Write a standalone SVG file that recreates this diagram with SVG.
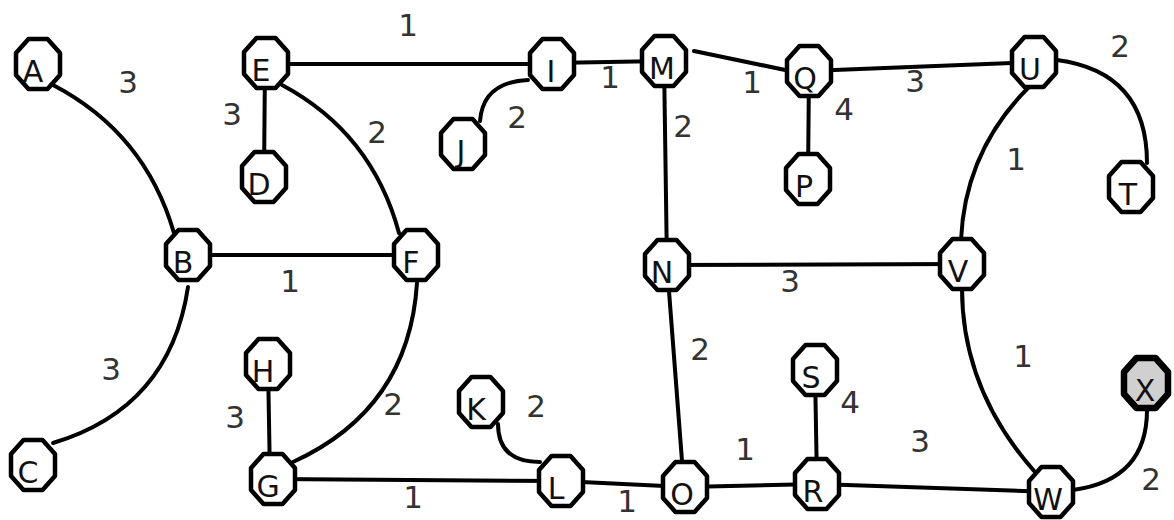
<svg xmlns="http://www.w3.org/2000/svg" xmlns:xlink="http://www.w3.org/1999/xlink" width="1174" height="520" viewBox="0 0 1174 520">
<style>
.e{fill:none;stroke:#000;stroke-width:4;stroke-linecap:round}
.n{fill:#fff;stroke:#000;stroke-width:4.5;stroke-linejoin:round}
.nx{fill:#d0d0d0;stroke:#000;stroke-width:6.5;stroke-linejoin:round}
.t{font-family:"DejaVu Sans",sans-serif;font-size:30px;fill:#111;text-anchor:middle}
.w{font-family:"DejaVu Sans",sans-serif;font-size:31px;fill:#333;text-anchor:middle}
</style>
<defs>
<polygon id="oct" points="-9.5,-25 9.5,-25 22,-11 22,11 9.5,25 -9.5,25 -22,11 -22,-11"/>
</defs>
<rect width="1174" height="520" fill="#fff"/>
<g id="connectors">
<path class="e" d="M53,85 Q145,133 174,233"/>
<path class="e" d="M188,287 Q170,408 53,443"/>
<line class="e" x1="188" y1="255" x2="416" y2="255"/>
<line class="e" x1="265" y1="63" x2="264" y2="177"/>
<path class="e" d="M282,85 Q372,133 399,233"/>
<line class="e" x1="266" y1="64" x2="552" y2="64"/>
<path class="e" d="M528,80 Q483,82 480,121"/>
<line class="e" x1="552" y1="63" x2="664" y2="61"/>
<line class="e" x1="694" y1="51" x2="790" y2="71"/>
<line class="e" x1="664" y1="61" x2="667" y2="265"/>
<line class="e" x1="809" y1="71" x2="808" y2="179"/>
<line class="e" x1="809" y1="71" x2="1034" y2="62"/>
<path class="e" d="M1057,60 Q1147,72 1147,163"/>
<path class="e" d="M1030,86 Q965,150 961,240"/>
<line class="e" x1="667" y1="265" x2="962" y2="264"/>
<line class="e" x1="667" y1="265" x2="684" y2="487"/>
<path class="e" d="M962,288 Q962,390 1035,472"/>
<path class="e" d="M417,283 Q409,409 293,462"/>
<line class="e" x1="268" y1="364" x2="270" y2="479"/>
<line class="e" x1="273" y1="479" x2="561" y2="481"/>
<path class="e" d="M498,424 Q498,462 540,462"/>
<line class="e" x1="561" y1="481" x2="685" y2="487"/>
<line class="e" x1="685" y1="487" x2="817" y2="484"/>
<line class="e" x1="815" y1="370" x2="817" y2="484"/>
<line class="e" x1="817" y1="484" x2="1051" y2="492"/>
<path class="e" d="M1147,410 Q1147,480 1073,490"/>
</g>
<g id="edge-labels">
<text class="w" x="128" y="93">3</text>
<text class="w" x="111" y="380">3</text>
<text class="w" x="290" y="292">1</text>
<text class="w" x="232" y="125">3</text>
<text class="w" x="377" y="143">2</text>
<text class="w" x="408" y="36">1</text>
<text class="w" x="517" y="128">2</text>
<text class="w" x="610" y="88">1</text>
<text class="w" x="752" y="93">1</text>
<text class="w" x="683" y="137">2</text>
<text class="w" x="844" y="120">4</text>
<text class="w" x="915" y="92">3</text>
<text class="w" x="1120" y="57">2</text>
<text class="w" x="1016" y="170">1</text>
<text class="w" x="790" y="292">3</text>
<text class="w" x="700" y="360">2</text>
<text class="w" x="1023" y="367">1</text>
<text class="w" x="393" y="415">2</text>
<text class="w" x="235" y="428">3</text>
<text class="w" x="413" y="508">1</text>
<text class="w" x="536" y="417">2</text>
<text class="w" x="627" y="512">1</text>
<text class="w" x="745" y="460">1</text>
<text class="w" x="850" y="413">4</text>
<text class="w" x="920" y="452">3</text>
<text class="w" x="1151" y="490">2</text>
</g>
<g id="node-A"><use href="#oct" class="n" x="38" y="64"/><text class="t" x="33" y="82">A</text></g>
<g id="node-B"><use href="#oct" class="n" x="188" y="255"/><text class="t" x="183" y="273">B</text></g>
<g id="node-C"><use href="#oct" class="n" x="33" y="465"/><text class="t" x="28" y="483">C</text></g>
<g id="node-D"><use href="#oct" class="n" x="264" y="177"/><text class="t" x="259" y="195">D</text></g>
<g id="node-E"><use href="#oct" class="n" x="266" y="63"/><text class="t" x="261" y="81">E</text></g>
<g id="node-F"><use href="#oct" class="n" x="416" y="255"/><text class="t" x="411" y="273">F</text></g>
<g id="node-G"><use href="#oct" class="n" x="273" y="479"/><text class="t" x="268" y="497">G</text></g>
<g id="node-H"><use href="#oct" class="n" x="268" y="364"/><text class="t" x="263" y="382">H</text></g>
<g id="node-I"><use href="#oct" class="n" x="552" y="64"/><text class="t" x="551" y="82">I</text></g>
<g id="node-J"><use href="#oct" class="n" x="463" y="144"/><text class="t" x="461" y="162">J</text></g>
<g id="node-K"><use href="#oct" class="n" x="481" y="402"/><text class="t" x="476" y="420">K</text></g>
<g id="node-L"><use href="#oct" class="n" x="561" y="481"/><text class="t" x="556" y="499">L</text></g>
<g id="node-M"><use href="#oct" class="n" x="664" y="61"/><text class="t" x="662" y="79">M</text></g>
<g id="node-N"><use href="#oct" class="n" x="667" y="265"/><text class="t" x="662" y="283">N</text></g>
<g id="node-O"><use href="#oct" class="n" x="685" y="487"/><text class="t" x="682" y="505">O</text></g>
<g id="node-P"><use href="#oct" class="n" x="808" y="179"/><text class="t" x="804" y="197">P</text></g>
<g id="node-Q"><use href="#oct" class="n" x="809" y="71"/><text class="t" x="805" y="89">Q</text></g>
<g id="node-R"><use href="#oct" class="n" x="817" y="484"/><text class="t" x="813" y="502">R</text></g>
<g id="node-S"><use href="#oct" class="n" x="815" y="370"/><text class="t" x="811" y="388">S</text></g>
<g id="node-T"><use href="#oct" class="n" x="1131" y="187"/><text class="t" x="1128" y="205">T</text></g>
<g id="node-U"><use href="#oct" class="n" x="1034" y="62"/><text class="t" x="1030" y="80">U</text></g>
<g id="node-V"><use href="#oct" class="n" x="962" y="264"/><text class="t" x="958" y="282">V</text></g>
<g id="node-W"><use href="#oct" class="n" x="1051" y="492"/><text class="t" x="1048" y="510">W</text></g>
<g id="node-X"><use href="#oct" class="nx" x="1146" y="383"/><text class="t" x="1145" y="401">X</text></g>
</svg>
